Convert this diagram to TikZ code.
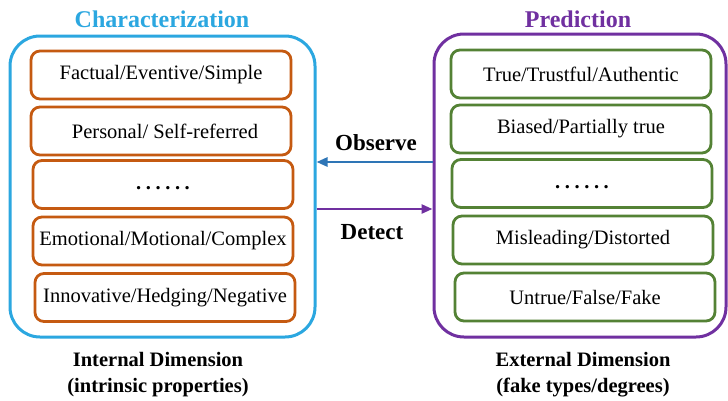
\documentclass[tikz,border=0pt]{standalone}
\usepackage{fontspec}
\setmainfont{Liberation Serif}
\usetikzlibrary{arrows.meta,calc}
\definecolor{cblue}{HTML}{2BA7E0}
\definecolor{corange}{HTML}{C55A11}
\definecolor{cgreen}{HTML}{548235}
\definecolor{cpurple}{HTML}{7030A0}
\definecolor{carrowblue}{HTML}{2E75B6}
\newcommand{\mydots}{\vphantom{Ag}\textbf{.\hspace{4.6pt}.\hspace{4.6pt}.\hspace{4.6pt}.\hspace{4.6pt}.\hspace{4.6pt}.}}
\begin{document}
\begin{tikzpicture}[x=1pt,y=-1pt,
  outerbox/.style={draw, line width=3pt, rounded corners=30pt, minimum width=#1},
  inbox/.style={draw, line width=2.8pt, rounded corners=9pt, minimum width=260pt, minimum height=48pt, inner sep=0pt,
     font=\fontsize{20.5}{24}\selectfont},
  ltitle/.style={font=\fontsize{24}{28}\selectfont\bfseries},
  blabel/.style={font=\fontsize{20.5}{26}\selectfont\bfseries, align=center},
  arlabel/.style={font=\fontsize{23}{27}\selectfont\bfseries},
  conn/.style={line width=2.6pt, -{Triangle[length=11pt,width=9pt]}}
]
\useasboundingbox (0,0) rectangle (728,400);
\fill[white] (0,0) rectangle (728,400);

% left side
\node[outerbox=305pt, minimum height=301pt, draw=cblue] (Lout) at (162.5,186.5) {};
\node[ltitle, text=cblue] (Ltitle) at (162,19) {Characterization};
\node[inbox, draw=corange] (L1) at (161,75) {Factual/Eventive/Simple};
\node[inbox, draw=corange] (L2) at (161,131) {\hspace*{8pt}Personal/ Self-referred};
\node[inbox, draw=corange] (L3) at (163,184.5) {\mydots};
\node[inbox, draw=corange] (L4) at (163,241) {Emotional/Motional/Complex};
\node[inbox, draw=corange] (L5) at (165,297.5) {Innovative/Hedging/Negative};
\node[blabel] (Lbot) at (158,375) {Internal Dimension\\(intrinsic properties)};

% right side
\node[outerbox=292pt, minimum height=303pt, draw=cpurple] (Rout) at (580,185.5) {};
\node[ltitle, text=cpurple] (Rtitle) at (578,19) {Prediction};
\node[inbox, draw=cgreen] (R1) at (581,74) {True/Trustful/Authentic};
\node[inbox, draw=cgreen] (R2) at (581,129) {Biased/Partially true};
\node[inbox, draw=cgreen] (R3) at (582,183.5) {\mydots};
\node[inbox, draw=cgreen] (R4) at (583,240) {Misleading/Distorted};
\node[inbox, draw=cgreen] (R5) at (585,297) {Untrue/False/Fake};
\node[blabel] (Rbot) at (583,375) {External Dimension\\(fake types/degrees)};

% connectors
\coordinate (o1) at ([yshift=23.5pt]Rout.west);
\coordinate (d1) at ([yshift=-22.5pt]Lout.east);
\draw[conn, carrowblue] (o1) -- (o1 -| Lout.east);
\draw[conn, cpurple] (d1) -- (d1 -| Rout.west);
\node[arlabel] (obs) at (376,143) {Observe};
\node[arlabel] (det) at (372,232) {Detect};
\end{tikzpicture}
\end{document}
